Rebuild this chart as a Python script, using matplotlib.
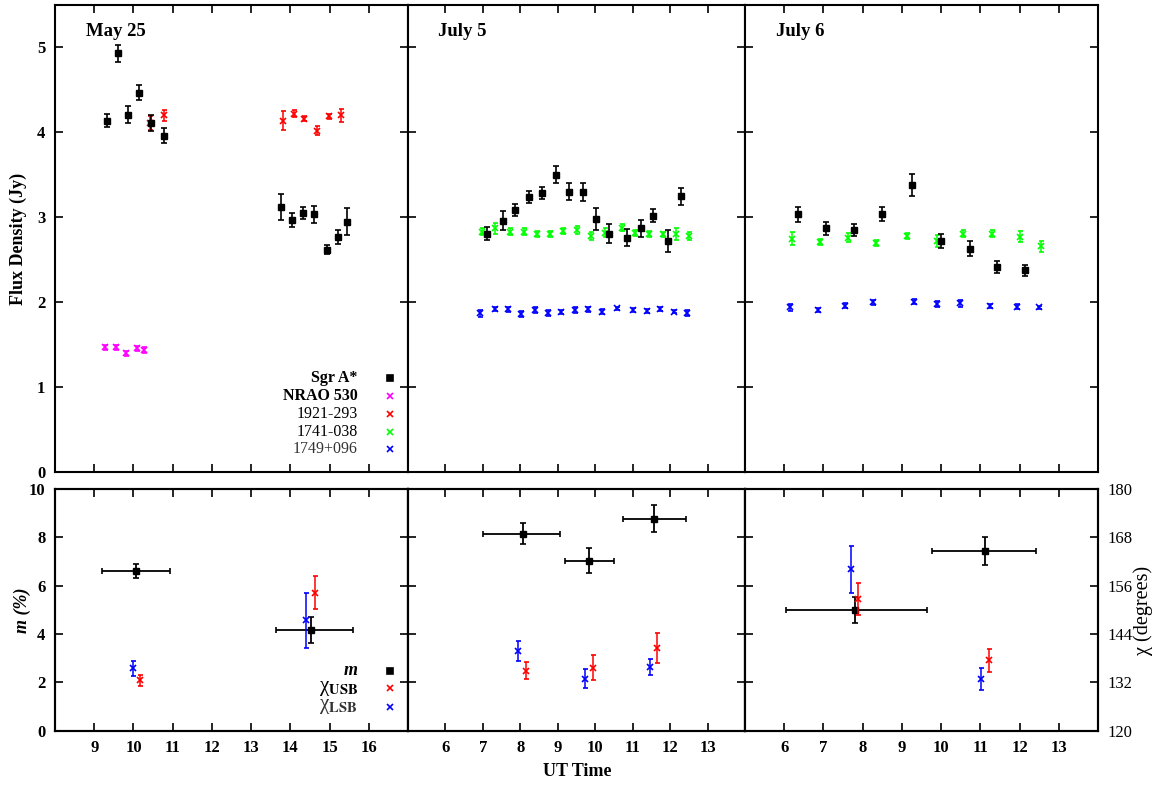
import matplotlib.pyplot as plt

plt.rcParams['font.family'] = ['Liberation Serif', 'DejaVu Serif']
plt.rcParams['font.weight'] = 'bold'
plt.rcParams['mathtext.fontset'] = 'stix'

# ---------------- flux density (Jy) ----------------
# May 25
may_sgr_t = [9.33, 9.60, 9.86, 10.14, 10.45, 10.77, 13.77, 14.05, 14.32, 14.60, 14.94, 15.21, 15.44]
may_sgr_f = [4.14, 4.93, 4.21, 4.47, 4.11, 3.96, 3.12, 2.97, 3.05, 3.04, 2.62, 2.77, 2.95]
may_sgr_e = [0.08, 0.10, 0.10, 0.09, 0.09, 0.09, 0.15, 0.08, 0.07, 0.10, 0.05, 0.08, 0.16]
may_nrao_t = [9.28, 9.55, 9.81, 10.08, 10.28]
may_nrao_f = [1.47, 1.47, 1.40, 1.46, 1.44]
may_nrao_e = [0.03, 0.03, 0.03, 0.03, 0.03]
may_1921_t = [10.42, 10.77, 13.82, 14.09, 14.35, 14.68, 14.98, 15.29]
may_1921_f = [4.11, 4.20, 4.14, 4.22, 4.16, 4.02, 4.19, 4.20]
may_1921_e = [0.08, 0.065, 0.11, 0.04, 0.03, 0.05, 0.03, 0.08]

# July 5
j5_sgr_t = [7.12, 7.53, 7.87, 8.24, 8.59, 8.94, 9.31, 9.68, 10.03, 10.38, 10.86, 11.22, 11.55, 11.94, 12.30]
j5_sgr_f = [2.81, 2.96, 3.09, 3.24, 3.29, 3.50, 3.30, 3.30, 2.98, 2.81, 2.76, 2.87, 3.02, 2.72, 3.25]
j5_sgr_e = [0.08, 0.11, 0.07, 0.065, 0.07, 0.10, 0.10, 0.11, 0.125, 0.11, 0.10, 0.10, 0.075, 0.13, 0.10]
j5_1741_t = [6.97, 7.33, 7.73, 8.09, 8.44, 8.80, 9.15, 9.51, 9.88, 10.25, 10.71, 11.07, 11.43, 11.81, 12.17, 12.51]
j5_1741_f = [2.83, 2.87, 2.83, 2.83, 2.80, 2.81, 2.84, 2.85, 2.78, 2.82, 2.88, 2.82, 2.80, 2.80, 2.80, 2.78]
j5_1741_e = [0.04, 0.065, 0.04, 0.04, 0.035, 0.035, 0.04, 0.045, 0.05, 0.05, 0.045, 0.035, 0.035, 0.03, 0.07, 0.05]
j5_1749_t = [6.91, 7.32, 7.67, 8.02, 8.38, 8.73, 9.09, 9.45, 9.82, 10.17, 10.59, 11.01, 11.37, 11.74, 12.10, 12.45]
j5_1749_f = [1.87, 1.92, 1.92, 1.86, 1.91, 1.88, 1.89, 1.91, 1.92, 1.89, 1.93, 1.91, 1.90, 1.92, 1.89, 1.88]
j5_1749_e = [0.04, 0.025, 0.03, 0.035, 0.035, 0.035, 0.025, 0.03, 0.03, 0.03, 0.02, 0.02, 0.02, 0.025, 0.02, 0.035]

# July 6
j6_sgr_t = [6.34, 7.06, 7.77, 8.49, 9.27, 9.99, 10.74, 11.43, 12.14]
j6_sgr_f = [3.035, 2.87, 2.85, 3.04, 3.38, 2.72, 2.63, 2.42, 2.38]
j6_sgr_e = [0.09, 0.08, 0.07, 0.085, 0.13, 0.08, 0.09, 0.07, 0.065]
j6_1741_t = [6.20, 6.92, 7.63, 8.33, 9.12, 9.90, 10.55, 11.30, 12.00, 12.55]
j6_1741_f = [2.75, 2.71, 2.76, 2.70, 2.78, 2.72, 2.81, 2.81, 2.77, 2.66]
j6_1741_e = [0.075, 0.035, 0.055, 0.035, 0.04, 0.07, 0.045, 0.045, 0.065, 0.065]
j6_1749_t = [6.15, 6.86, 7.56, 8.26, 9.32, 9.89, 10.47, 11.24, 11.94, 12.49]
j6_1749_f = [1.94, 1.91, 1.96, 2.00, 2.01, 1.98, 1.99, 1.96, 1.95, 1.94]
j6_1749_e = [0.04, 0.02, 0.03, 0.03, 0.03, 0.04, 0.04, 0.025, 0.03, 0.02]

# ---------------- polarization ----------------
# m (%) with time ranges, chi (degrees) for USB / LSB
may_m_t = [10.06, 14.52]
may_m = [6.62, 4.17]
may_m_e = [0.29, 0.55]
may_m_tlo = [0.87, 0.88]
may_m_thi = [0.88, 1.07]
may_usb_t = [10.17, 14.62]
may_usb = [132.5, 154.3]
may_usb_e = [1.4, 4.1]
may_lsb_t = [9.98, 14.40]
may_lsb = [135.5, 147.4]
may_lsb_e = [1.9, 6.9]

j5_m_t = [8.06, 9.84, 11.57]
j5_m = [8.15, 7.03, 8.77]
j5_m_e = [0.43, 0.52, 0.55]
j5_m_tlo = [1.06, 0.64, 0.84]
j5_m_thi = [0.99, 0.65, 0.85]
j5_usb_t = [8.15, 9.93, 11.65]
j5_usb = [134.9, 135.6, 140.5]
j5_usb_e = [2.1, 3.1, 3.7]
j5_lsb_t = [7.93, 9.74, 11.45]
j5_lsb = [139.7, 132.9, 135.8]
j5_lsb_e = [2.5, 2.4, 1.9]

j6_m_t = [7.80, 11.12]
j6_m = [4.99, 7.42]
j6_m_e = [0.54, 0.58]
j6_m_tlo = [1.75, 1.34]
j6_m_thi = [1.84, 1.30]
j6_usb_t = [7.89, 11.22]
j6_usb = [152.7, 137.5]
j6_usb_e = [3.9, 2.9]
j6_lsb_t = [7.69, 11.02]
j6_lsb = [160.1, 132.8]
j6_lsb_e = [5.8, 2.7]

dates = ['May 25', 'July 5', 'July 6']
xlims = [(8, 17), (5, 14), (5, 14)]
xticks = [range(9, 17), range(6, 14), range(6, 14)]

MAG, RED, GRN, BLU = '#ff00ff', '#ff0000', '#00ff00', '#0000ff'

flux = [
    [(may_sgr_t, may_sgr_f, may_sgr_e, 'k', 's'),
     (may_nrao_t, may_nrao_f, may_nrao_e, MAG, 'x'),
     (may_1921_t, may_1921_f, may_1921_e, RED, 'x')],
    [(j5_sgr_t, j5_sgr_f, j5_sgr_e, 'k', 's'),
     (j5_1741_t, j5_1741_f, j5_1741_e, GRN, 'x'),
     (j5_1749_t, j5_1749_f, j5_1749_e, BLU, 'x')],
    [(j6_sgr_t, j6_sgr_f, j6_sgr_e, 'k', 's'),
     (j6_1741_t, j6_1741_f, j6_1741_e, GRN, 'x'),
     (j6_1749_t, j6_1749_f, j6_1749_e, BLU, 'x')],
]
pol = [
    (may_m_t, may_m, may_m_e, may_m_tlo, may_m_thi, may_usb_t, may_usb, may_usb_e, may_lsb_t, may_lsb, may_lsb_e),
    (j5_m_t, j5_m, j5_m_e, j5_m_tlo, j5_m_thi, j5_usb_t, j5_usb, j5_usb_e, j5_lsb_t, j5_lsb, j5_lsb_e),
    (j6_m_t, j6_m, j6_m_e, j6_m_tlo, j6_m_thi, j6_usb_t, j6_usb, j6_usb_e, j6_lsb_t, j6_lsb, j6_lsb_e),
]

W, H = 1165, 785
fig = plt.figure(figsize=(W / 100, H / 100), dpi=100)


def box(x0, x1, y0, y1):
    return [x0 / W, 1 - y1 / H, (x1 - x0) / W, (y1 - y0) / H]


def style(ax):
    ax.tick_params(direction='in', length=6, width=1.2, top=True, right=True,
                   labelsize=12, pad=7)
    for s in ax.spines.values():
        s.set_linewidth(1.5)


cols = [(55, 408), (408, 745), (745, 1098)]

for i in range(3):
    x0, x1 = cols[i]
    # ---- top: flux ----
    ax = fig.add_axes(box(x0, x1, 5, 472.3))
    for t, f, e, c, mk in flux[i]:
        if mk == 's':
            ax.errorbar(t, f, yerr=e, fmt='s', color=c, ms=5, capsize=2.3,
                        elinewidth=1.2, capthick=1.2, zorder=3)
        else:
            ax.errorbar(t, f, yerr=e, fmt='x', color=c, ms=4, mew=1.2, capsize=1.8,
                        elinewidth=1.1, capthick=1.1, zorder=2)
    ax.set_xlim(*xlims[i])
    ax.set_ylim(0, 5.5)
    ax.set_xticks(list(xticks[i]))
    ax.set_yticks(range(0, 6))
    ax.set_xticklabels([])
    if i > 0:
        ax.set_yticklabels([])
    style(ax)
    ax.text(0.088, 0.943, dates[i], transform=ax.transAxes, fontsize=13.5,
            fontweight='bold', ha='left', va='center')
    if i == 0:
        rows = [('Sgr A*', 's', 'k', 'bold', 'k'),
                ('NRAO 530', 'x', MAG, 'bold', 'k'),
                ('1921-293', 'x', RED, 'normal', 'k'),
                ('1741-038', 'x', GRN, 'normal', 'k'),
                ('1749+096', 'x', BLU, 'normal', '#333333')]
        ys = [0.201, 0.163, 0.125, 0.086, 0.049]
        for (lab, mk, c, w, tc), yf in zip(rows, ys):
            ax.text(0.858, yf, lab, transform=ax.transAxes, ha='right', va='center',
                    fontsize=11.5, fontweight=w, color=tc)
            ax.plot([0.949], [yf], marker=mk, color=c, ms=5 if mk == 's' else 4,
                    mew=1.2, transform=ax.transAxes, clip_on=False)

    # ---- bottom: polarization ----
    (mt, m, me, tlo, thi, ut, u, ue, lt, l, le) = pol[i]
    bx = fig.add_axes(box(x0, x1, 489, 730.7))
    bx.errorbar(mt, m, yerr=me, xerr=[tlo, thi], fmt='s', color='k', ms=5,
                capsize=2.3, elinewidth=1.3, capthick=1.2, zorder=3)
    bx.set_xlim(*xlims[i])
    bx.set_ylim(0, 10)
    bx.set_xticks(list(xticks[i]))
    bx.set_yticks(range(0, 11, 2))
    if i > 0:
        bx.set_yticklabels([])
    style(bx)
    cx = bx.twinx()
    cx.errorbar(ut, u, yerr=ue, fmt='x', color=RED, ms=4, mew=1.2, capsize=1.8,
                elinewidth=1.1, capthick=1.1)
    cx.errorbar(lt, l, yerr=le, fmt='x', color=BLU, ms=4, mew=1.2, capsize=1.8,
                elinewidth=1.1, capthick=1.1)
    cx.set_ylim(120, 180)
    cx.set_yticks(range(120, 181, 12))
    cx.tick_params(direction='in', length=6, width=1.2, labelsize=12, pad=7)
    if i < 2:
        cx.set_yticklabels([])
    for s in cx.spines.values():
        s.set_linewidth(1.5)
    if i == 0:
        rows = [('m', 's', 'k', 'k'),
                (r'χ$_{\mathrm{USB}}$', 'x', RED, 'k'),
                (r'χ$_{\mathrm{LSB}}$', 'x', BLU, '#333333')]
        ys = [0.248, 0.176, 0.099]
        for (lab, mk, c, tc), yf in zip(rows, ys):
            if mk == 's':
                bx.text(0.858, yf, lab, transform=bx.transAxes, ha='right', va='center',
                        fontsize=13, fontweight='bold', fontstyle='italic')
            else:
                bx.text(0.858, yf, lab, transform=bx.transAxes, ha='right', va='center',
                        fontsize=15, fontweight='normal', color=tc)
            bx.plot([0.949], [yf], marker=mk, color=c, ms=5 if mk == 's' else 4,
                    mew=1.2, transform=bx.transAxes, clip_on=False)
    for a in (ax, bx):
        for lab in a.get_xticklabels() + a.get_yticklabels():
            lab.set_fontweight('bold')
    for lab in cx.get_yticklabels():
        lab.set_fontweight('normal')

fig.text(18 / W, 1 - 239 / H, 'Flux Density (Jy)', rotation=90, ha='center', va='center',
         fontsize=13, fontweight='bold')
fig.text(22 / W, 1 - 610 / H, 'm (%)', rotation=90, ha='center', va='center',
         fontsize=13, fontweight='bold', fontstyle='italic')
fig.text(1143 / W, 1 - 610 / H, 'χ (degrees)', rotation=90, ha='center', va='center',
         fontsize=14.5, fontweight='normal')
fig.text(577 / W, 1 - 772 / H, 'UT Time', ha='center', va='center',
         fontsize=13, fontweight='bold')

fig.savefig('out.png', dpi=100)
